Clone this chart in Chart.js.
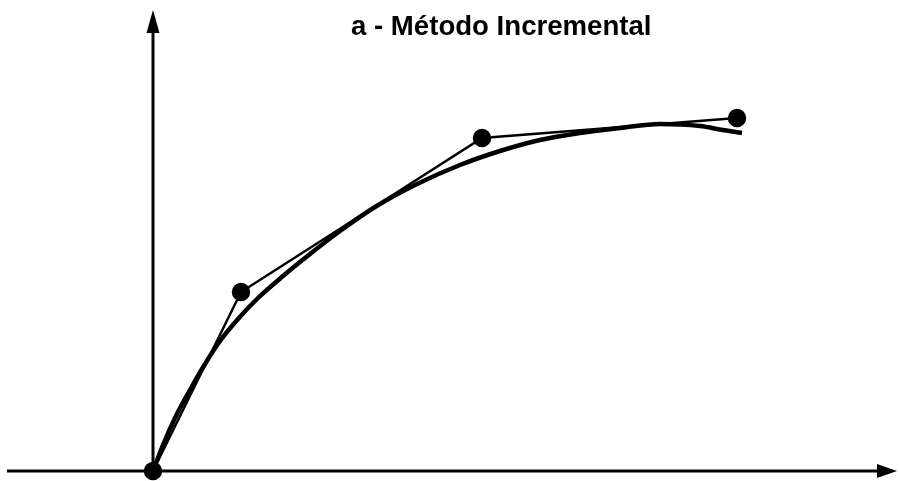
<!DOCTYPE html>
<html lang="pt">
<head>
<meta charset="UTF-8">
<title>a - Método Incremental</title>
<script src="https://cdn.jsdelivr.net/npm/chart.js"></script>
<style>
    body { margin: 0; background: #fff; }
    #wrap { position: relative; width: 899px; height: 481px; }
    #title { position: absolute; left: 351px; top: 10px; font-family: "Liberation Sans", Arial, sans-serif; font-weight: bold; font-size: 27.6px; line-height: 1.15; color: #000; white-space: nowrap; }
</style>
</head>
<body>
<div id="wrap">
    <canvas id="chart" width="899" height="481"></canvas>
    <div id="title">a - Método Incremental</div>
</div>
<script>
// measured points (thin polyline with dots)
const pointX = [0, 0.88, 3.29, 5.84];
const pointY = [0, 1.79, 3.33, 3.53];

// fitted smooth curve (thick line)
const curveX = [0, 0.10, 0.22, 0.37, 0.52, 0.67, 0.85, 1.05, 1.30, 1.57, 1.87, 2.22, 2.64, 3.07, 3.47, 3.87, 4.27, 4.67, 5.07, 5.47, 5.70, 5.89];
const curveY = [0, 0.26, 0.53, 0.81, 1.07, 1.30, 1.52, 1.73, 1.95, 2.17, 2.40, 2.64, 2.87, 3.06, 3.20, 3.31, 3.38, 3.43, 3.47, 3.45, 3.41, 3.38];

// axis extents
const xAxisRange = [-1.46, 7.44];
const yAxisRange = [-0.02, 4.61];

const toXY = (xs, ys) => xs.map((x, i) => ({ x: x, y: ys[i] }));

const axesPlugin = {
    id: 'arrowAxes',
    beforeDatasetsDraw(chart) {
        const ctx = chart.ctx;
        const sx = chart.scales.x, sy = chart.scales.y;
        const x0 = sx.getPixelForValue(0), y0 = sy.getPixelForValue(0);
        const xa = sx.getPixelForValue(xAxisRange[0]), xb = sx.getPixelForValue(xAxisRange[1]);
        const ya = sy.getPixelForValue(yAxisRange[0]), yb = sy.getPixelForValue(yAxisRange[1]);
        ctx.save();
        ctx.strokeStyle = '#000';
        ctx.fillStyle = '#000';
        ctx.lineWidth = 3;
        // x axis
        ctx.beginPath();
        ctx.moveTo(xa, y0);
        ctx.lineTo(xb - 18, y0);
        ctx.stroke();
        ctx.beginPath();
        ctx.moveTo(xb, y0);
        ctx.lineTo(xb - 20, y0 - 7);
        ctx.lineTo(xb - 20, y0 + 7);
        ctx.closePath();
        ctx.fill();
        // y axis
        ctx.beginPath();
        ctx.moveTo(x0, ya);
        ctx.lineTo(x0, yb + 20);
        ctx.stroke();
        ctx.beginPath();
        ctx.moveTo(x0, yb);
        ctx.lineTo(x0 - 6.5, yb + 23);
        ctx.lineTo(x0 + 6.5, yb + 23);
        ctx.closePath();
        ctx.fill();
        ctx.restore();
    }
};

new Chart(document.getElementById('chart'), {
    type: 'scatter',
    data: {
        datasets: [
            {
                label: 'curva',
                data: toXY(curveX, curveY),
                showLine: true,
                borderColor: '#000',
                borderWidth: 4.5,
                pointRadius: 0,
                tension: 0.4,
                cubicInterpolationMode: 'monotone',
                clip: false
            },
            {
                label: 'pontos',
                data: toXY(pointX, pointY),
                showLine: true,
                borderColor: '#000',
                borderWidth: 2.5,
                backgroundColor: '#000',
                pointBackgroundColor: '#000',
                pointBorderColor: '#000',
                pointRadius: 8,
                tension: 0,
                clip: false
            }
        ]
    },
    options: {
        responsive: false,
        animation: false,
        layout: { padding: 0, autoPadding: false },
        plugins: { legend: { display: false }, tooltip: { enabled: false }, title: { display: false } },
        scales: {
            x: { type: 'linear', display: false, min: -1.53, max: 7.46 },
            y: { type: 'linear', display: false, min: -0.10, max: 4.71 }
        }
    },
    plugins: [axesPlugin]
});
</script>
</body>
</html>
